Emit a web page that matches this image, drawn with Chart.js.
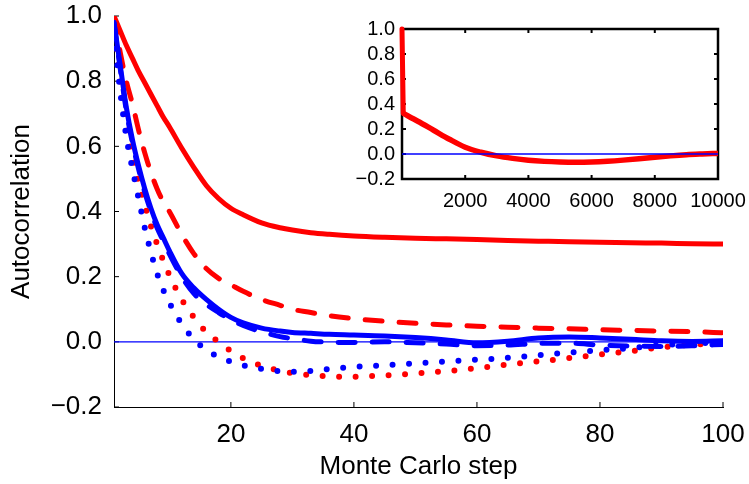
<!DOCTYPE html>
<html>
<head>
<meta charset="utf-8">
<script src="https://cdn.jsdelivr.net/npm/chart.js@4"></script>
<style>
  html, body { margin: 0; padding: 0; background: #fff; overflow: hidden; }
  #wrap { position: relative; width: 749px; height: 484px; overflow: hidden; }
  #main { position: absolute; left: 0; top: 0; }
  #inset { position: absolute; left: 330px; top: 0; }
</style>
</head>
<body>
<div id="wrap">
  <canvas id="main" width="749" height="484"></canvas>
  <canvas id="inset" width="460" height="230"></canvas>
</div>
<script>
const red = "rgb(255,0,0)";
const blue = "rgb(0,0,255)";

// main plot: lag (Monte Carlo step) and autocorrelation of each run
const steps = [1, 2, 3, 4, 5, 6, 7, 8, 9, 10, 12, 14, 16, 18, 20, 22, 25, 28, 30, 33, 36, 40, 45, 50, 55, 60, 65, 70, 75, 80, 85, 90, 95, 100];
const redSolid = [1.0, 0.955, 0.91, 0.87, 0.83, 0.795, 0.76, 0.725, 0.69, 0.66, 0.595, 0.535, 0.48, 0.44, 0.41, 0.39, 0.365, 0.35, 0.343, 0.335, 0.33, 0.325, 0.321, 0.318, 0.316, 0.314, 0.311, 0.309, 0.307, 0.306, 0.304, 0.303, 0.301, 0.30];
const redDashed = [1.0, 0.89, 0.80, 0.73, 0.65, 0.58, 0.52, 0.47, 0.43, 0.40, 0.33, 0.27, 0.225, 0.195, 0.175, 0.155, 0.13, 0.112, 0.10, 0.09, 0.08, 0.071, 0.063, 0.057, 0.052, 0.048, 0.045, 0.042, 0.04, 0.037, 0.035, 0.033, 0.031, 0.028];
const redDotted = [0.95, 0.80, 0.68, 0.57, 0.49, 0.42, 0.355, 0.30, 0.25, 0.205, 0.13, 0.075, 0.03, 0.0, -0.028, -0.05, -0.074, -0.089, -0.096, -0.102, -0.106, -0.107, -0.103, -0.097, -0.09, -0.081, -0.07, -0.06, -0.05, -0.039, -0.029, -0.017, -0.009, -0.004];
const blueSolid = [0.98, 0.85, 0.72, 0.62, 0.54, 0.47, 0.41, 0.36, 0.32, 0.28, 0.21, 0.165, 0.13, 0.10, 0.075, 0.058, 0.042, 0.033, 0.029, 0.026, 0.023, 0.021, 0.018, 0.013, 0.006, -0.003, 0.002, 0.012, 0.015, 0.012, 0.008, 0.003, 0.001, 0.003];
const blueDashed = [0.98, 0.84, 0.71, 0.61, 0.53, 0.46, 0.40, 0.35, 0.31, 0.27, 0.20, 0.148, 0.115, 0.09, 0.068, 0.05, 0.031, 0.016, 0.01, 0.002, -0.001, -0.002, 0.0, -0.003, -0.007, -0.012, -0.01, -0.005, -0.004, -0.01, -0.013, -0.014, -0.012, -0.008];
const blueDotted = [0.95, 0.77, 0.63, 0.53, 0.44, 0.35, 0.275, 0.21, 0.16, 0.12, 0.055, 0.008, -0.025, -0.046, -0.061, -0.072, -0.083, -0.09, -0.092, -0.089, -0.083, -0.077, -0.072, -0.066, -0.06, -0.055, -0.049, -0.041, -0.033, -0.026, -0.019, -0.01, -0.005, -0.003];
const zeroSteps = [1, 100];
const zeroValues = [0, 0];

const xTicks = [20, 40, 60, 80, 100];
const yTicks = [-0.2, 0.0, 0.2, 0.4, 0.6, 0.8, 1.0];

// inset: long run up to 10000 steps (first drop, then slow tail)
const insetDropSteps = [0, 40];
const insetDropValues = [1.0, 0.325];
const insetSteps = [40, 500, 1000, 1500, 2000, 2500, 3000, 3500, 4000, 4500, 5000, 5500, 6000, 6500, 7000, 7500, 8000, 8500, 9000, 9500, 10000];
const insetValues = [0.325, 0.262, 0.19, 0.118, 0.054, 0.014, -0.015, -0.035, -0.05, -0.059, -0.064, -0.066, -0.064, -0.058, -0.049, -0.038, -0.026, -0.015, -0.006, 0.0, 0.005];
const insetZeroSteps = [0, 10000];
const insetZeroValues = [0, 0];
const insetXTicks = [2000, 4000, 6000, 8000, 10000];
const insetYTicks = [-0.2, 0.0, 0.2, 0.4, 0.6, 0.8, 1.0];

Chart.defaults.font.family = "'Liberation Sans', Arial, sans-serif";
Chart.defaults.color = "#000";

const pts = (xs, ys) => xs.map((x, i) => ({x: x, y: ys[i]}));
const fmt = v => (v < 0 ? "\u2212" : "") + Math.abs(v).toFixed(1);

// ticks drawn inward, optionally mirrored, optionally a full box; under the lines
const inwardTicks = {
    id: 'inwardTicks',
    beforeDatasetsDraw(chart, args, opts) {
        const {ctx, chartArea: a, scales} = chart;
        ctx.save();
        ctx.strokeStyle = "#000";
        ctx.lineWidth = opts.width;
        ctx.beginPath();
        for (const t of scales.x.ticks) {
            const px = scales.x.getPixelForValue(t.value);
            ctx.moveTo(px, a.bottom);
            ctx.lineTo(px, a.bottom - opts.len);
            if (opts.mirror) {
                ctx.moveTo(px, a.top);
                ctx.lineTo(px, a.top + opts.len);
            }
        }
        for (const t of scales.y.ticks) {
            const py = scales.y.getPixelForValue(t.value);
            ctx.moveTo(a.left, py);
            ctx.lineTo(a.left + opts.len, py);
            if (opts.mirror) {
                ctx.moveTo(a.right, py);
                ctx.lineTo(a.right - opts.len, py);
            }
        }
        ctx.stroke();
        if (opts.box) {
            ctx.lineWidth = opts.box;
            ctx.strokeRect(a.left, a.top, a.right - a.left, a.bottom - a.top);
        }
        ctx.restore();
    }
};

function series(data, colour, style, width) {
    const ds = {
        data: data,
        borderColor: colour,
        borderWidth: width,
        pointRadius: 0,
        fill: false,
        cubicInterpolationMode: 'monotone',
        borderCapStyle: 'round',
        borderJoinStyle: 'round'
    };
    if (style === 'dashed') ds.borderDash = [17, 17];
    if (style === 'dotted') ds.borderDash = [0, 16.5];
    return ds;
}

const noGrid = {display: false, drawTicks: false};

new Chart(document.getElementById('main'), {
    type: 'line',
    data: {
        datasets: [
            series(pts(steps, blueSolid), blue, 'solid', 5),
            series(pts(steps, blueDashed), blue, 'dashed', 5),
            series(pts(steps, blueDotted), blue, 'dotted', 6),
            series(pts(steps, redSolid), red, 'solid', 5),
            series(pts(steps, redDashed), red, 'dashed', 5),
            series(pts(steps, redDotted), red, 'dotted', 6),
            series(pts(zeroSteps, zeroValues), blue, 'solid', 1.3)
        ]
    },
    options: {
        responsive: false,
        animation: false,
        layout: {padding: {top: 16, right: 26, left: 0, bottom: 0}},
        plugins: {
            legend: {display: false},
            tooltip: {enabled: false},
            inwardTicks: {len: 5, width: 1, mirror: false, box: 0}
        },
        scales: {
            x: {
                type: 'linear',
                min: 1,
                max: 100,
                grid: noGrid,
                border: {display: true, color: "#000", width: 1},
                afterBuildTicks: s => { s.ticks = xTicks.map(v => ({value: v})); },
                afterFit: s => { s.height = 77; s.paddingLeft = 0; s.paddingRight = 0; },
                ticks: {font: {size: 26}, padding: 12, maxRotation: 0, autoSkip: false},
                title: {display: true, text: 'Monte Carlo step', font: {size: 26}, padding: {top: 0, bottom: 2}}
            },
            y: {
                min: -0.2,
                max: 1.0,
                grid: noGrid,
                border: {display: true, color: "#000", width: 1},
                afterBuildTicks: s => { s.ticks = yTicks.map(v => ({value: v})); },
                afterFit: s => { s.width = 114; s.paddingTop = 0; s.paddingBottom = 0; },
                ticks: {font: {size: 26}, padding: 12, autoSkip: false, callback: v => fmt(v)},
                title: {display: true, text: 'Autocorrelation', font: {size: 26}, padding: {top: 6, bottom: 0}}
            }
        }
    },
    plugins: [inwardTicks]
});

new Chart(document.getElementById('inset'), {
    type: 'line',
    data: {
        datasets: [
            series(pts(insetZeroSteps, insetZeroValues), blue, 'solid', 1.3),
            series(pts(insetSteps, insetValues), red, 'solid', 5.5),
            Object.assign(series(pts(insetDropSteps, insetDropValues), red, 'solid', 5), {cubicInterpolationMode: 'default', tension: 0, clip: false})
        ]
    },
    options: {
        responsive: false,
        animation: false,
        layout: {padding: {top: 29, right: 72, left: 0, bottom: 0}},
        plugins: {
            legend: {display: false},
            tooltip: {enabled: false},
            inwardTicks: {len: 4, width: 2, mirror: true, box: 2.5}
        },
        scales: {
            x: {
                type: 'linear',
                min: 0,
                max: 10000,
                grid: noGrid,
                border: {display: false},
                afterBuildTicks: s => { s.ticks = insetXTicks.map(v => ({value: v})); },
                afterFit: s => { s.height = 51; s.paddingLeft = 0; s.paddingRight = 0; },
                ticks: {font: {size: 20}, padding: 10, maxRotation: 0, autoSkip: false, callback: v => String(v)}
            },
            y: {
                min: -0.2,
                max: 1.0,
                grid: noGrid,
                border: {display: false},
                afterBuildTicks: s => { s.ticks = insetYTicks.map(v => ({value: v})); },
                afterFit: s => { s.width = 72; s.paddingTop = 0; s.paddingBottom = 0; },
                ticks: {font: {size: 20}, padding: 7, autoSkip: false, callback: v => fmt(v)}
            }
        }
    },
    plugins: [inwardTicks]
});
</script>
</body>
</html>
